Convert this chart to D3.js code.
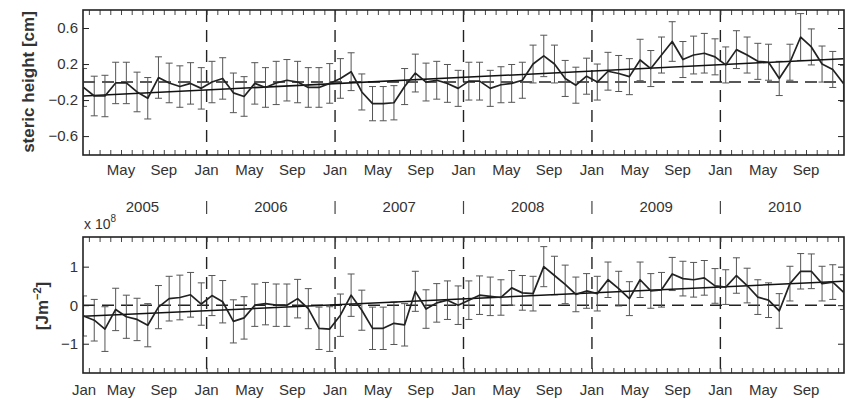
<!DOCTYPE html>
<html><head><meta charset="utf-8">
<script src="https://cdn.jsdelivr.net/npm/d3@7"></script>
<style>
body{margin:0;background:#fff}
svg{display:block}
text{font-family:"Liberation Sans",Arial,Helvetica,sans-serif;fill:#333}
</style></head>
<body><svg id="chart" width="851" height="401"></svg>
<script>
// ---- data ----
const monthLabels = ["Jan","May","Sep"];
const monthLabelIdx = [0, 4, 8];
const years = ["2005","2006","2007","2008","2009","2010"];

const stericHeight = [
 -0.06,-0.155,-0.155,-0.01,-0.01,-0.11,-0.18,0.05,-0.01,-0.05,-0.015,-0.07,
 0.0,0.04,-0.12,-0.16,-0.015,-0.06,-0.01,0.02,0.0,-0.06,-0.06,-0.015,
 0.04,0.115,-0.11,-0.24,-0.24,-0.23,-0.05,0.1,0.0,0.02,-0.015,-0.07,
 0.01,0.01,-0.07,-0.03,-0.015,0.02,0.2,0.29,0.2,0.04,-0.035,0.065,
 0.0,0.12,0.095,0.06,0.245,0.15,0.3,0.45,0.25,0.3,0.32,0.28,
 0.19,0.36,0.3,0.23,0.22,0.04,0.22,0.5,0.39,0.2,0.14,-0.015];
const stericErr = [
 0.21,0.22,0.23,0.23,0.23,0.22,0.23,0.23,0.22,0.23,0.23,0.23,
 0.23,0.23,0.22,0.22,0.23,0.22,0.24,0.23,0.23,0.22,0.22,0.22,
 0.22,0.21,0.2,0.19,0.19,0.19,0.2,0.21,0.21,0.21,0.21,0.2,
 0.21,0.21,0.2,0.2,0.21,0.2,0.21,0.23,0.21,0.2,0.2,0.2,
 0.2,0.21,0.2,0.2,0.23,0.2,0.2,0.22,0.2,0.21,0.22,0.2,
 0.2,0.21,0.2,0.2,0.2,0.19,0.2,0.26,0.2,0.2,0.2,0.2];
const stericTrend = [-0.155, 0.26];
const stericTicks = [-0.6,-0.2,0.2,0.6];

const heatContent = [
 -0.28,-0.39,-0.62,-0.11,-0.3,-0.37,-0.52,-0.05,0.17,0.2,0.27,0.03,
 0.25,0.09,-0.42,-0.33,0.0,0.04,0.0,0.0,0.17,-0.09,-0.6,-0.62,
 -0.26,0.26,-0.13,-0.6,-0.6,-0.47,-0.51,0.36,-0.1,0.06,0.13,0.0,
 0.13,0.26,0.23,0.2,0.45,0.32,0.3,1.0,0.77,0.54,0.28,0.37,
 0.3,0.66,0.43,0.17,0.66,0.37,0.4,0.81,0.69,0.66,0.71,0.5,
 0.47,0.77,0.51,0.21,0.13,-0.15,0.56,0.88,0.88,0.56,0.6,0.34];
const heatErr = [
 0.52,0.54,0.58,0.55,0.56,0.55,0.56,0.56,0.58,0.58,0.58,0.55,
 0.52,0.55,0.56,0.55,0.55,0.55,0.55,0.55,0.5,0.52,0.55,0.58,
 0.55,0.55,0.52,0.55,0.55,0.55,0.55,0.52,0.5,0.5,0.5,0.5,
 0.5,0.5,0.5,0.46,0.45,0.45,0.45,0.52,0.5,0.5,0.45,0.45,
 0.45,0.46,0.45,0.44,0.46,0.45,0.45,0.43,0.45,0.45,0.45,0.45,
 0.45,0.46,0.45,0.45,0.45,0.45,0.45,0.46,0.45,0.45,0.45,0.45];
const heatTrend = [-0.29, 0.62];
const heatTicks = [-1,0,1];

// ---- layout ----
const svg = d3.select("#chart");
const x = d3.scaleLinear().domain([0.45, 71.55]).range([83, 844]);
const nMonths = stericHeight.length;
const fmt = d3.format(".1f");

function drawPanel(cfg){
  const y = d3.scaleLinear().domain(cfg.domain).range([cfg.bottom, cfg.top]);
  const g = svg.append("g");
  const clipId = "clip" + cfg.id;
  svg.append("clipPath").attr("id", clipId).append("rect")
    .attr("x", x.range()[0]).attr("y", cfg.top)
    .attr("width", x.range()[1]-x.range()[0]).attr("height", cfg.bottom-cfg.top);
  const inner = g.append("g").attr("clip-path", `url(#${clipId})`);

  // zero dashed line
  inner.append("line").attr("x1", x.range()[0]).attr("x2", x.range()[1])
    .attr("y1", y(0)).attr("y2", y(0))
    .attr("stroke", "#222").attr("stroke-width", 1.4).attr("stroke-dasharray", "12,7");
  // year dashed lines
  inner.selectAll("line.yr").data(d3.range(1, years.length)).join("line")
    .attr("x1", d => x(d*12)).attr("x2", d => x(d*12))
    .attr("y1", cfg.top).attr("y2", cfg.bottom)
    .attr("stroke", "#222").attr("stroke-width", 1.4).attr("stroke-dasharray", "12,8");

  const vals = cfg.values, errs = cfg.errors;
  const idx = d3.range(nMonths);
  // error bars
  const eb = inner.append("g").attr("stroke", "#555").attr("stroke-width", 1);
  eb.selectAll("line.v").data(idx).join("line")
    .attr("x1", i => x(i+0.5)).attr("x2", i => x(i+0.5))
    .attr("y1", i => y(vals[i]-errs[i])).attr("y2", i => y(vals[i]+errs[i]));
  eb.selectAll("line.t").data(idx).join("line")
    .attr("x1", i => x(i+0.5)-3.5).attr("x2", i => x(i+0.5)+3.5)
    .attr("y1", i => y(vals[i]+errs[i])).attr("y2", i => y(vals[i]+errs[i]));
  eb.selectAll("line.b").data(idx).join("line")
    .attr("x1", i => x(i+0.5)-3.5).attr("x2", i => x(i+0.5)+3.5)
    .attr("y1", i => y(vals[i]-errs[i])).attr("y2", i => y(vals[i]-errs[i]));
  // trend
  inner.append("line")
    .attr("x1", x(0.5)).attr("x2", x(nMonths-0.5))
    .attr("y1", y(cfg.trend[0])).attr("y2", y(cfg.trend[1]))
    .attr("stroke", "#111").attr("stroke-width", 1.5);
  // series
  inner.append("path").datum(idx)
    .attr("fill", "none").attr("stroke", "#222").attr("stroke-width", 1.7)
    .attr("stroke-linejoin", "round")
    .attr("d", d3.line().x(i => x(i+0.5)).y(i => y(vals[i])));

  // axes: month ticks top & bottom (inward)
  const mt = d3.range(1, nMonths);
  g.append("g").attr("transform", `translate(0,${cfg.bottom})`)
    .call(d3.axisBottom(x).tickValues(mt).tickSizeInner(-5).tickSizeOuter(0).tickFormat(""))
    .call(a => a.select(".domain").remove())
    .call(a => a.selectAll("line").attr("stroke", "#444"));
  g.append("g").attr("transform", `translate(0,${cfg.top})`)
    .call(d3.axisTop(x).tickValues(mt).tickSizeInner(-5).tickSizeOuter(0).tickFormat(""))
    .call(a => a.select(".domain").remove())
    .call(a => a.selectAll("line").attr("stroke", "#444"));
  // y axes
  g.append("g").attr("transform", `translate(${x.range()[0]},0)`)
    .call(d3.axisLeft(y).tickValues(cfg.ticks).tickSizeInner(-6).tickSizeOuter(0)
      .tickPadding(5).tickFormat(cfg.tickFormat))
    .call(a => a.select(".domain").remove())
    .call(a => a.selectAll("line").attr("stroke", "#222"))
    .call(a => a.selectAll("text").attr("font-size", 15).attr("fill", "#333")
      .attr("font-family", '"Liberation Sans",Arial,sans-serif'));
  g.append("g").attr("transform", `translate(${x.range()[1]},0)`)
    .call(d3.axisRight(y).tickValues(cfg.ticks).tickSizeInner(-6).tickSizeOuter(0).tickFormat(""))
    .call(a => a.select(".domain").remove())
    .call(a => a.selectAll("line").attr("stroke", "#222"));

  // frame
  g.append("rect").attr("x", x.range()[0]).attr("y", cfg.top)
    .attr("width", x.range()[1]-x.range()[0]).attr("height", cfg.bottom-cfg.top)
    .attr("fill", "none").attr("stroke", "#222").attr("stroke-width", 1.6);

  // month labels
  const labs = [];
  for (let yi = 0; yi < years.length; yi++)
    monthLabelIdx.forEach((mi, k) => {
      const m = yi*12 + mi;
      if (m === 0 && !cfg.firstJan) return;
      labs.push({m, t: monthLabels[k]});
    });
  g.selectAll("text.ml").data(labs).join("text")
    .attr("x", d => Math.max(x(d.m), x.range()[0]+1))
    .attr("y", cfg.labelY).attr("text-anchor", "middle")
    .attr("font-size", 15).text(d => d.t);
  return y;
}

drawPanel({id:"a", top:10, bottom:155, domain:[-0.81, 0.8],
  values: stericHeight, errors: stericErr, trend: stericTrend, ticks: stericTicks,
  tickFormat: fmt, labelY: 175, firstJan: false});
drawPanel({id:"b", top:237, bottom:373, domain:[-1.76, 1.77],
  values: heatContent, errors: heatErr, trend: heatTrend, ticks: heatTicks,
  tickFormat: d3.format("d"), labelY: 395, firstJan: true});

// year row
svg.selectAll("text.year").data(years).join("text")
  .attr("x", (d,i) => x(i*12+6)).attr("y", 212).attr("text-anchor", "middle")
  .attr("font-size", 15).text(d => d);
svg.selectAll("line.sep").data(d3.range(1, years.length)).join("line")
  .attr("x1", d => x(d*12)).attr("x2", d => x(d*12))
  .attr("y1", 201).attr("y2", 214).attr("stroke", "#444").attr("stroke-width", 1.2);

// axis titles
svg.append("text").attr("transform", "translate(34,82) rotate(-90)")
  .attr("text-anchor", "middle").attr("font-size", 17).attr("font-weight", "bold")
  .attr("fill", "#222").text("steric height [cm]");
const jt = svg.append("text").attr("transform", "translate(48,306) rotate(-90)")
  .attr("text-anchor", "middle").attr("font-size", 17).attr("font-weight", "bold")
  .attr("fill", "#222");
jt.append("tspan").text("[Jm");
jt.append("tspan").attr("font-size", 11).attr("dy", -7).text("−2");
jt.append("tspan").attr("dy", 7).text("]");

const ex = svg.append("text").attr("x", 84).attr("y", 229).attr("font-size", 14);
ex.append("tspan").text("x 10");
ex.append("tspan").attr("font-size", 10).attr("dy", -7).text("8");
</script></body></html>
